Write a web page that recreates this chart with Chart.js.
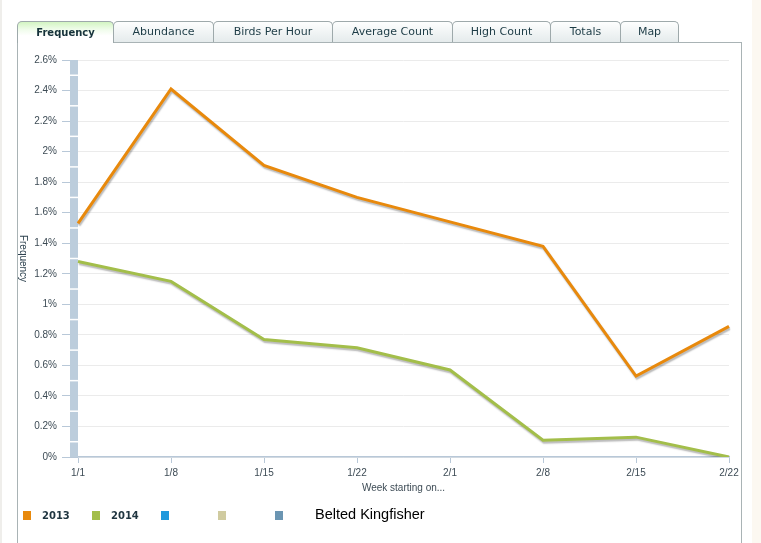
<!DOCTYPE html>
<html lang="en">
<head>
<meta charset="UTF-8">
<title>Belted Kingfisher - Frequency</title>
<script src="https://cdn.jsdelivr.net/npm/chart.js@4.4.0/dist/chart.umd.min.js"></script>
<style>
html, body { margin:0; padding:0; width:761px; height:543px; overflow:hidden; background:#fff; }
#page { position:relative; width:761px; height:543px; }
#edgeL { position:absolute; left:0; top:0; width:2px; height:543px; background:#efeeeb; }
#edgeR { position:absolute; left:752px; top:0; width:9px; height:543px; background:#fcf8f1; }
#panel { position:absolute; left:17px; top:42px; width:723px; height:520px; border:1px solid #a9b3b5; border-bottom:none; background:#fff; }
#chartWrap { position:absolute; left:0; top:0; width:761px; height:543px; z-index:1; }
#tabs { position:absolute; left:17px; top:21px; margin:0; padding:0; list-style:none; display:flex; z-index:2; }
#tabs li { box-sizing:border-box; height:21px; line-height:20px; margin-left:-1px; text-align:center;
  border:1px solid #9ea9ab; border-bottom:none; border-radius:5px 5px 0 0;
  background:linear-gradient(#fdfefe, #e5ebec); color:#1d3c46;
  font-family:"DejaVu Sans", sans-serif; font-size:11px; }
#tabs li:first-child { margin-left:0; }
#tabs li.active { height:22px; font-weight:bold; font-size:10px; line-height:22px; color:#16323b;
  background:linear-gradient(#d3f5c2 0%, #effcea 35%, #ffffff 65%); }
#tabs li:nth-child(1) { width:97px; }
#tabs li:nth-child(2) { width:101px; }
#tabs li:nth-child(3) { width:120px; }
#tabs li:nth-child(4) { width:121px; }
#tabs li:nth-child(5) { width:99px; }
#tabs li:nth-child(6) { width:71px; }
#tabs li:nth-child(7) { width:59px; }
#legend { position:absolute; left:23px; top:510px; height:10px; display:flex; align-items:center; z-index:2; }
#legend .item { display:flex; align-items:center; width:57px; }
#legend .item.named { width:69px; }
#legend .swatch { width:8px; height:9px; margin-right:11px; }
#legend .name { font-family:"DejaVu Sans", sans-serif; font-weight:bold; font-size:10px; color:#1f3540; }
#species { position:absolute; left:315px; top:506px; font-family:"Liberation Sans", Arial, sans-serif; font-size:14.5px; color:#000; z-index:2; }
</style>
</head>
<body>
<div id="page">
  <div id="edgeL"></div>
  <div id="edgeR"></div>
  <div id="panel"></div>
  <ul id="tabs"></ul>
  <div id="chartWrap"><canvas id="canvas"></canvas></div>
  <div id="legend"></div>
  <div id="species"></div>
</div>

<script>
// tabs
var tabNames = ['Frequency', 'Abundance', 'Birds Per Hour', 'Average Count', 'High Count', 'Totals', 'Map'];

// weeks on the x axis
var weeks = ['1/1', '1/8', '1/15', '1/22', '2/1', '2/8', '2/15', '2/22'];

// frequency (%) per year
var freq2013 = [1.53, 2.41, 1.91, 1.70, 1.54, 1.38, 0.53, 0.855];
var freq2014 = [1.28, 1.15, 0.77, 0.715, 0.57, 0.11, 0.13, 0.0];

// y axis range
var yMin = 0;
var yMax = 2.6;
var yStep = 0.2;

// legend
var legendNames = ['2013', '2014', '', '', ''];
var legendColors = ['#e8890c', '#a3be4a', '#1e98dc', '#d0cba0', '#6b95b2'];
var speciesName = 'Belted Kingfisher';

var xTitle = 'Week starting on...';
var yTitle = 'Frequency';

var textFont = '"Liberation Sans", Arial, sans-serif';
var textColor = '#3d4b55';
var axisBlue = '#b8c8d8';

// tabs
var tabList = document.getElementById('tabs');
tabNames.forEach(function(name, i) {
  var li = document.createElement('li');
  li.textContent = name;
  if (i === 0) li.className = 'active';
  tabList.appendChild(li);
});

// legend
var legendBox = document.getElementById('legend');
legendNames.forEach(function(name, i) {
  var item = document.createElement('div');
  item.className = name ? 'item named' : 'item';
  var sw = document.createElement('span');
  sw.className = 'swatch';
  sw.style.background = legendColors[i];
  item.appendChild(sw);
  if (name) {
    var t = document.createElement('span');
    t.className = 'name';
    t.textContent = name;
    item.appendChild(t);
  }
  legendBox.appendChild(item);
});
document.getElementById('species').textContent = speciesName;

// soft grey shadow under each line
var lineShadow = {
  id: 'lineShadow',
  beforeDatasetDraw: function(chart) {
    var ctx = chart.ctx;
    ctx.save();
    ctx.shadowColor = 'rgba(0,0,0,0.28)';
    ctx.shadowOffsetX = 1;
    ctx.shadowOffsetY = 2;
    ctx.shadowBlur = 1.5;
  },
  afterDatasetDraw: function(chart) {
    chart.ctx.restore();
  }
};

// blue-grey strip left of the plot + rotated y title
var sideStrip = {
  id: 'sideStrip',
  beforeDatasetsDraw: function(chart) {
    var ctx = chart.ctx;
    var area = chart.chartArea;
    var y = chart.scales.y;
    var top = y.getPixelForValue(yMax);
    var bottom = y.getPixelForValue(yMin);
    ctx.save();
    ctx.fillStyle = '#bccddc';
    ctx.fillRect(area.left - 8, top, 8, bottom - top);
    ctx.strokeStyle = '#ffffff';
    ctx.lineWidth = 1.5;
    for (var v = yMin; v < yMax - 0.001; v += yStep) {
      var py = y.getPixelForValue(v + yStep / 2);
      ctx.beginPath();
      ctx.moveTo(area.left - 8, py);
      ctx.lineTo(area.left, py);
      ctx.stroke();
    }
    ctx.restore();
  },
  afterDraw: function(chart) {
    var ctx = chart.ctx;
    var area = chart.chartArea;
    ctx.save();
    ctx.translate(23, (area.top + area.bottom) / 2);
    ctx.rotate(Math.PI / 2);
    ctx.font = '10px ' + textFont;
    ctx.fillStyle = '#2f4350';
    ctx.textAlign = 'center';
    ctx.textBaseline = 'middle';
    ctx.fillText(yTitle, 0, 0);
    ctx.restore();
  }
};

window.onload = function() {
  var ctx = document.getElementById('canvas').getContext('2d');
  window.myChart = new Chart(ctx, {
    type: 'line',
    data: {
      labels: weeks,
      datasets: [
        { label: legendNames[0], data: freq2013, borderColor: legendColors[0], borderWidth: 3, pointRadius: 0, tension: 0, fill: false },
        { label: legendNames[1], data: freq2014, borderColor: legendColors[1], borderWidth: 3, pointRadius: 0, tension: 0, fill: false }
      ]
    },
    options: {
      responsive: true,
      maintainAspectRatio: false,
      animation: false,
      layout: { padding: { left: 0, top: 60, right: 32, bottom: 0 } },
      plugins: {
        legend: { display: false },
        tooltip: { enabled: false }
      },
      scales: {
        x: {
          offset: false,
          afterFit: function(scale) { scale.height = 86; },
          border: { display: true, color: axisBlue, width: 1.5 },
          grid: { drawOnChartArea: false, drawTicks: true, tickLength: 6, tickColor: axisBlue },
          ticks: { autoSkip: false, maxRotation: 0, padding: 4, color: textColor, font: { family: textFont, size: 10 } },
          title: { display: true, text: xTitle, color: textColor, font: { family: textFont, size: 10 }, padding: { top: 0, bottom: 49 } }
        },
        y: {
          min: yMin,
          max: yMax,
          afterFit: function(scale) { scale.width = 78; },
          border: { display: false },
          grid: { color: '#ebebeb', drawTicks: true, tickLength: 16, tickColor: axisBlue },
          ticks: {
            stepSize: yStep,
            padding: 5,
            color: textColor,
            font: { family: textFont, size: 10 },
            callback: function(v) { return parseFloat(v.toFixed(1)) + '%'; }
          }
        }
      }
    },
    plugins: [lineShadow, sideStrip]
  });
};
</script>
</body>
</html>
